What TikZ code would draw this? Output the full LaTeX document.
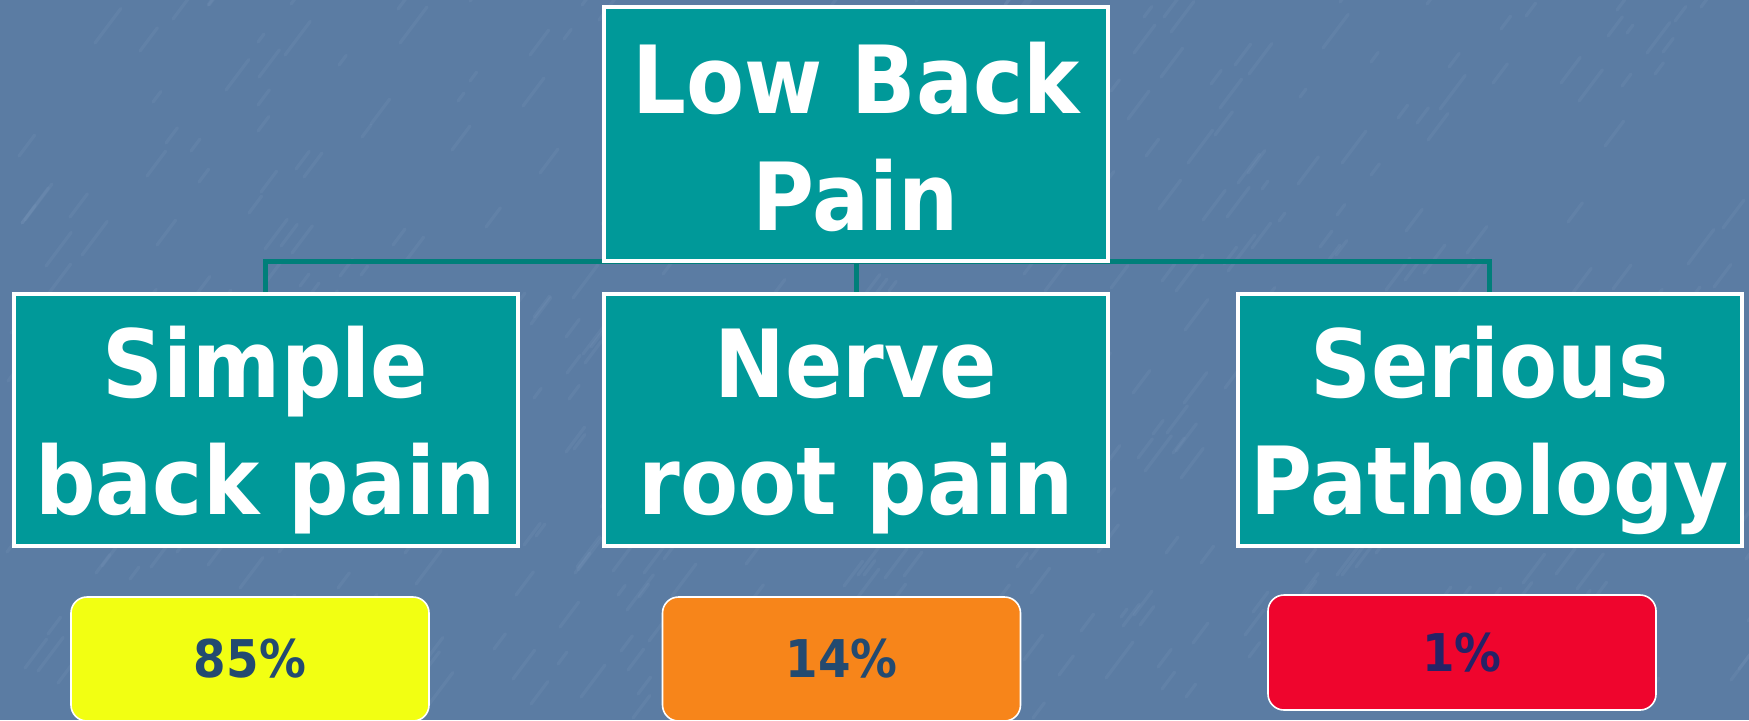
\documentclass[tikz,border=0pt]{standalone}
\usepackage{fontspec}
\setmainfont{DejaVu Sans}[FakeStretch=0.9]
\usetikzlibrary{backgrounds}
\definecolor{bg}{HTML}{5B7CA3}
\definecolor{bglight}{HTML}{8FAACB}
\definecolor{tealbox}{HTML}{009999}
\definecolor{connteal}{HTML}{007F7A}
\definecolor{yel}{HTML}{F2FF12}
\definecolor{ora}{HTML}{F7851A}
\definecolor{redb}{HTML}{EF052D}
\definecolor{txtblue}{HTML}{234A70}
\definecolor{txtind}{HTML}{262266}
\newcommand{\ls}{\rule[-8.5pt]{0pt}{54.5pt}}
\begin{document}
\begin{tikzpicture}[x=0.5pt,y=-0.5pt]
\tikzset{
  mainbox/.style={draw=white, line width=2pt, fill=tealbox, text=white,
    font=\fontsize{47}{58.5}\selectfont\bfseries, align=center,
    minimum width=252pt, minimum height=126pt, inner sep=0pt},
  pctbox/.style={draw=white, line width=0.8pt, rounded corners=8pt,
    font=\fontsize{26}{30}\selectfont\bfseries, inner sep=0pt,
    minimum width=179pt, minimum height=62pt, text=txtblue},
  conn/.style={draw=connteal, line width=2.5pt},
  streak/.style={draw=bglight, line width=1.6pt, opacity=0.12, line cap=round}
}
\useasboundingbox (0,0) rectangle (1749,720);
% boxes
\node[mainbox, minimum height=127pt] (top) at (856,134) {\ls Low Back\\\ls Pain};
\node[mainbox] (simple) at (265.5,420) {\ls Simple\\\ls back pain};
\node[mainbox] (nerve) at (856,420) {\ls Nerve\\\ls root pain};
\node[mainbox] (serious) at (1489.5,420) {\ls Serious\\\ls Pathology};
% percentage boxes
\node[pctbox, fill=yel] (p85) at (250,659) {85\%};
\node[pctbox, fill=ora] (p14) at (841.5,659) {14\%};
\node[pctbox, fill=redb, text=txtind, minimum width=194pt, minimum height=57.5pt] (p1) at (1462,652.5) {1\%};
\begin{scope}[on background layer]
  \fill[bg] (0,0) rectangle (1749,720);
  \pgfmathsetseed{11}
  \foreach \i in {1,...,500}{
    \pgfmathsetmacro{\px}{random(0,1749)}
    \pgfmathsetmacro{\py}{random(0,720)}
    \pgfmathsetmacro{\len}{random(10,45)}
    \draw[streak] (\px,\py) -- ++(0.6*\len,-0.8*\len);
  }
  \coordinate (bus) at ([yshift=1pt]top.south);
  \draw[conn] (simple.north) |- (bus) -| (serious.north);
  \draw[conn] (nerve.north) -- (top.south);
\end{scope}
\end{tikzpicture}
\end{document}
